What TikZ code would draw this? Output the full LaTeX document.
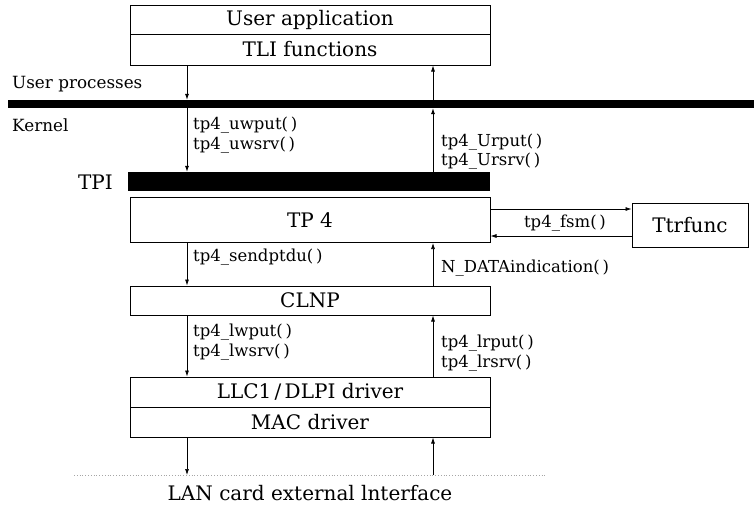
\documentclass[tikz,border=0pt]{standalone}
\usepackage{fontspec}
\setmainfont{DejaVu Serif}
\usetikzlibrary{arrows.meta}
\tikzset{
  box/.style={draw, line width=1pt, minimum width=360pt, inner sep=0pt, font=\fontsize{20}{22}\selectfont},
  blackbar/.style={fill=black, draw=none, inner sep=0pt},
  lbl/.style={anchor=west, inner sep=0pt, font=\fontsize{16.5}{18}\selectfont},
  side/.style={anchor=west, inner sep=0pt, font=\fontsize{16.8}{19}\selectfont},
  arr/.style={line width=0.7pt, -{Latex[length=6pt,width=4pt]}},
}
\begin{document}
\begin{tikzpicture}[x=1pt,y=-1pt]
\useasboundingbox (0,0) rectangle (754,504);
% top box
\node[box, minimum height=29pt] (ua) at (310,19.5) {User application};
\node[box, minimum height=31pt] (tli) at (310,49.5) {TLI functions};
% kernel bar
\node[blackbar, minimum width=746pt, minimum height=8pt] (kbar) at (381,104) {};
\node[side] (up) at (12,84) {User processes};
\node[side] (kern) at (12,125) {Kernel};
% TPI bar
\node[blackbar, minimum width=362pt, minimum height=19pt] (tpi) at (309,181.5) {};
\node[side, anchor=east, font=\fontsize{20}{22}\selectfont] (tpilbl) at (113,182) {TPI};
% TP4
\node[box, minimum height=45pt] (tp4) at (310,220) {TP 4};
\node[box, minimum width=116pt, minimum height=44pt] (ttr) at (690,225) {Ttrfunc};
% CLNP
\node[box, minimum height=29pt] (clnp) at (310,300.5) {CLNP};
% LLC/MAC
\node[box, minimum height=30pt] (llc) at (310,392) {LLC1\,/\,DLPI driver};
\node[box, minimum height=30pt] (mac) at (310,422) {MAC driver};
% LAN interface line
\coordinate (lanL) at (74,475);
\coordinate (lanR) at (547,475);
\draw[gray!70, line width=0.8pt, dotted] (lanL) -- (lanR);
\node[font=\fontsize{20}{22}\selectfont, inner sep=0pt] (lan) at (310,493) {LAN card external lnterface};
% arrow columns
\coordinate (L) at (187,0);
\coordinate (R) at (433,0);
\draw[arr] (tli.south -| L) -- (kbar.north -| L);
\draw[arr] (kbar.north -| R) -- (tli.south -| R);
\draw[arr] (kbar.south -| L) -- (tpi.north -| L);
\draw[arr] (tpi.north -| R) -- (kbar.south -| R);
\draw[arr] (tp4.south -| L) -- (clnp.north -| L);
\draw[arr] (clnp.north -| R) -- (tp4.south -| R);
\draw[arr] (clnp.south -| L) -- (llc.north -| L);
\draw[arr] (llc.north -| R) -- (clnp.south -| R);
\draw[arr] (mac.south -| L) -- (lanL -| L);
\draw[arr] (lanL -| R) -- (mac.south -| R);
% Ttrfunc arrows
\coordinate (f1) at (0,209);
\coordinate (f2) at (0,236);
\draw[arr] (tp4.east |- f1) -- (ttr.west |- f1);
\draw[arr] (ttr.west |- f2) -- (tp4.east |- f2);
\node[lbl, anchor=center] (fsm) at (565,223) {tp4\_fsm(\,)};
% labels
\node[lbl] (l1) at (193,125) {tp4\_uwput(\,)};
\node[lbl] (l2) at (193,145) {tp4\_uwsrv(\,)};
\node[lbl] (l3) at (441,142) {tp4\_Urput(\,)};
\node[lbl] (l4) at (441,161) {tp4\_Ursrv(\,)};
\node[lbl] (l5) at (193,257) {tp4\_sendptdu(\,)};
\node[lbl] (l6) at (441,268) {N\_DATAindication(\,)};
\node[lbl] (l7) at (193,332) {tp4\_lwput(\,)};
\node[lbl] (l8) at (193,352) {tp4\_lwsrv(\,)};
\node[lbl] (l9) at (441,343) {tp4\_lrput(\,)};
\node[lbl] (l10) at (441,363) {tp4\_lrsrv(\,)};
\end{tikzpicture}
\end{document}
